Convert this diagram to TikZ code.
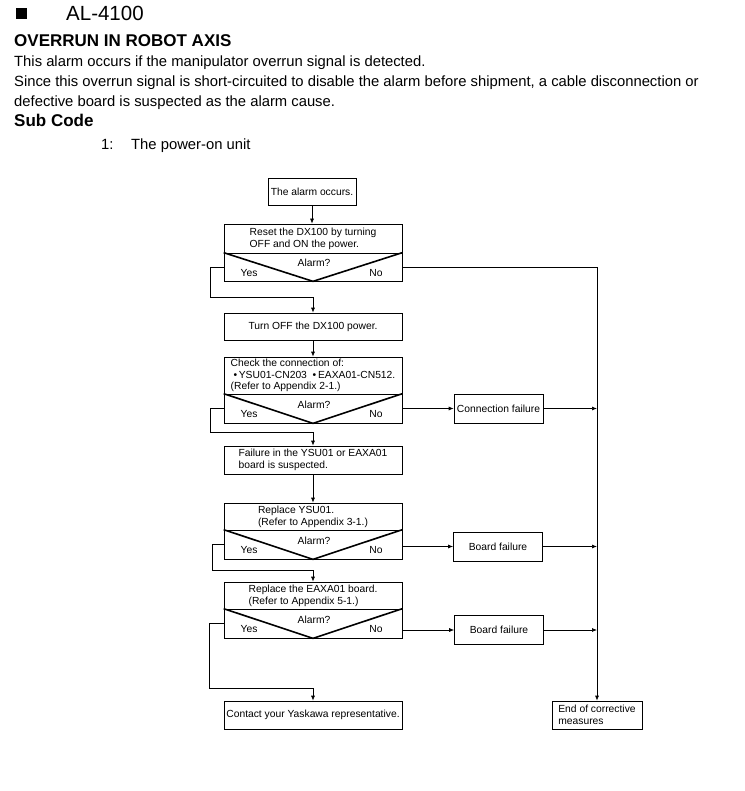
\documentclass[tikz,border=0pt]{standalone}
\usepackage{fontspec}
\setmainfont{Liberation Sans}
\usetikzlibrary{arrows.meta}

\begin{document}
\begin{tikzpicture}[x=1pt, y=-1pt,
  every node/.style={font=\fontsize{10.3}{11.8}\selectfont, inner sep=0pt},
  body/.style={anchor=base west, font=\fontsize{14.8}{17}\selectfont},
  head/.style={anchor=base west, font=\fontsize{17}{19}\selectfont\bfseries},
  box/.style={draw, line width=0.7pt, align=left,
              minimum width=178pt, minimum height=27pt},
  dec/.style={draw, line width=0.7pt, minimum width=178pt, minimum height=29pt},
  side/.style={draw, line width=0.7pt, align=left,
               minimum width=89pt, minimum height=29pt},
  vee/.style={line width=1.6pt},
  arr/.style={-{Latex[length=5pt, width=4pt]}, line width=0.7pt},
]
\useasboundingbox (0,0) rectangle (744,791);

%% ── Title block ──────────────────────────────
\fill (16,8) rectangle (27,19);
\node[anchor=base west, font=\fontsize{20.5}{24}\selectfont] (code) at (66,21) {AL-4100};
\node[head] (ttl) at (14,47) {OVERRUN IN ROBOT AXIS};
\node[body] (l1) at (14,67) {This alarm occurs if the manipulator overrun signal is detected.};
\node[body] (l2) at (14,87) {Since this overrun signal is short-circuited to disable the alarm before shipment, a cable disconnection or};
\node[body] (l3) at (14,107) {defective board is suspected as the alarm cause.};
\node[head] (sub) at (14,127) {Sub Code};
\node[body] (sc1) at (101,150) {1:};
\node[body] (sc1t) at (131,150) {The power-on unit};

%% ── Start ────────────────────────────────────
\node[draw, line width=0.7pt, minimum width=88pt, minimum height=27pt]
      (start) at (312,191.5) {The alarm occurs.};

%% ── Reset ────────────────────────────────────
\node[box, minimum height=29pt] (rst)  at (313,238.5) {Reset the DX100 by turning\\OFF and ON the power.};
\node[dec, minimum height=28pt] (rstq) at (313,267) {};
\draw[vee] (rstq.north west) -- (rstq.south) -- (rstq.north east);
\node at (314,263) {Alarm?};
\node at (249,273) {Yes};
\node at (376,273) {No};

%% ── Turn off ─────────────────────────────────
\node[box] (off) at (313,326.5) {Turn OFF the DX100 power.};

%% ── Check connection ─────────────────────────
\node[box, minimum height=37pt] (chk)  at (313,375.5)
      {Check the connection of:\\
       \ \textbullet\,YSU01-CN203\ \ \textbullet\,EAXA01-CN512.\\
       (Refer to Appendix 2-1.)};
\node[dec] (chkq) at (313,408.5) {};
\draw[vee] (chkq.north west) -- (chkq.south) -- (chkq.north east);
\node at (314,405) {Alarm?};
\node at (249,414) {Yes};
\node at (376,414) {No};
\node[side] (cf) at (498.5,408.5) {Connection failure};

%% ── Failure suspected ────────────────────────
\node[box, minimum height=28pt] (fail) at (313,460) {Failure in the YSU01 or EAXA01\\board is suspected.};

%% ── Replace YSU01 ────────────────────────────
\node[box] (ysu)  at (313,516.5) {Replace YSU01.\\(Refer to Appendix 3-1.)};
\node[dec] (ysuq) at (313,544.5) {};
\draw[vee] (ysuq.north west) -- (ysuq.south) -- (ysuq.north east);
\node at (314,541) {Alarm?};
\node at (249,550) {Yes};
\node at (376,550) {No};
\node[side] (bf1) at (498,546.5) {Board failure};

%% ── Replace EAXA01 ───────────────────────────
\node[box] (eax)  at (313,595.5) {Replace the EAXA01 board.\\(Refer to Appendix 5-1.)};
\node[dec] (eaxq) at (313,623.5) {};
\draw[vee] (eaxq.north west) -- (eaxq.south) -- (eaxq.north east);
\node at (314,620) {Alarm?};
\node at (249,629) {Yes};
\node at (376,629) {No};
\node[side] (bf2) at (499,630) {Board failure};

%% ── Ends ─────────────────────────────────────
\node[box, minimum height=28pt] (rep) at (313,715) {Contact your Yaskawa representative.};
\node[draw, line width=0.7pt, align=left, minimum width=90pt, minimum height=28pt]
      (endm) at (597,715) {End of corrective\\measures};

%% ── Main column ──────────────────────────────
\draw[arr] (start) -- (rst.north -| start);
\draw[arr] (rstq.west) -- ++(-13,0) -- ++(0,30) -| (off.north);
\draw[arr] (off) -- (chk);
\draw[arr] (chkq.west) -- ++(-13,0) -- ++(0,23.5) -| (fail.north);
\draw[arr] (fail) -- (ysu);
\draw[arr] (ysuq.west) -- ++(-11,0) -- ++(0,25.5) -| (eax.north);
\draw[arr] (eaxq.west) -- ++(-14,0) -- ++(0,64.5) -| (rep.north);

%% ── No branches ──────────────────────────────
\draw[arr] (rstq.east) -| (endm.north);
\draw[arr] (chkq.east) -- (cf.west);
\draw[arr] (cf.east) -- (cf.east -| endm.north);
\draw[arr] (ysuq.east |- bf1.west) -- (bf1.west);
\draw[arr] (bf1.east) -- (bf1.east -| endm.north);
\draw[arr] (eaxq.east |- bf2.west) -- (bf2.west);
\draw[arr] (bf2.east) -- (bf2.east -| endm.north);

\end{tikzpicture}
\end{document}
